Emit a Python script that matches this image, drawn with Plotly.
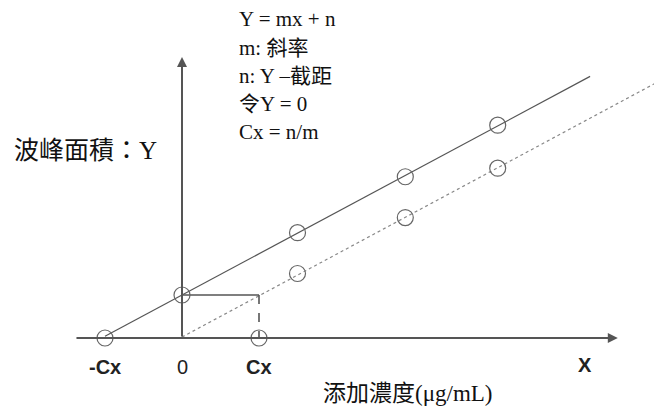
import numpy as np
import plotly.graph_objects as go

# 標準添加法示意圖
cx = 2.0
x_std = [0, 3.0, 5.8, 8.2]          # 添加濃度
y_sample = [2.0, 4.9, 7.5, 9.9]     # 樣品 + 添加 的波峰面積
y_std = [0, 3.0, 5.6, 7.9]          # 扣除樣品後
x_line_end = [10.6, 12.3]           # 迴歸線延伸到的 x
x_axis_span = [-2.78, 11.32]
y_axis_top = 13.07

formula_lines = ["Y = mx + n", "m: 斜率", "n: Y –截距", "令Y = 0", "Cx = n/m"]
tick_labels = ["<b>-Cx</b>", "0", "<b>Cx</b>"]

W, H = 654, 408
X0, PX_X = 182, 38.5
Y0, PX_Y = 338, 21.5

# 迴歸線
m1, n1 = np.polyfit(x_std, y_sample, 1)
m2, n2 = np.polyfit(x_std, y_std, 1)
xl1 = np.array([-cx, x_line_end[0]])
xl2 = np.array([0, x_line_end[1]])

fig = go.Figure()
fig.add_trace(go.Scatter(x=xl1, y=m1 * xl1 + n1, mode="lines",
                         line=dict(color="#555", width=1.2)))
fig.add_trace(go.Scatter(x=xl2, y=m2 * xl2 + n2, mode="lines",
                         line=dict(color="#888", width=1.2, dash="dot")))

# 標記 n 與 Cx
fig.add_trace(go.Scatter(x=[0, cx], y=[n1, n1], mode="lines",
                         line=dict(color="#555", width=1.6)))
fig.add_trace(go.Scatter(x=[cx, cx], y=[n1, 0], mode="lines",
                         line=dict(color="#555", width=1.6, dash="dash")))

circle = dict(symbol="circle-open", size=16, color="#666", line=dict(width=1.2))
fig.add_trace(go.Scatter(x=[-cx] + x_std, y=[0] + y_sample, mode="markers", marker=circle))
fig.add_trace(go.Scatter(x=x_std[1:] + [cx], y=y_std[1:] + [0], mode="markers", marker=circle))

# 座標軸 (箭頭)
arrow = dict(showarrow=True, arrowhead=2, arrowsize=1, arrowwidth=2, arrowcolor="#555",
             axref="x", ayref="y", xref="x", yref="y", text="")
fig.add_annotation(x=x_axis_span[1], y=0, ax=x_axis_span[0], ay=0, **arrow)
fig.add_annotation(x=0, y=y_axis_top, ax=0, ay=0, **arrow)

serif = "Liberation Serif, Times New Roman, Noto Sans CJK TC"
sans = "Liberation Sans, Arial"


def px(xp, yp):
    return xp / W, 1 - yp / H


for i, t in enumerate(formula_lines):
    xp, yp = px(237, [19, 48, 76, 104, 132][i])
    fig.add_annotation(x=xp, y=yp, xref="paper", yref="paper", text=t, showarrow=False,
                       xanchor="left", yanchor="middle",
                       font=dict(family=serif, size=21, color="#111"))

for xv, t in zip([-cx, 0, cx], tick_labels):
    fig.add_annotation(x=xv, y=px(0, 367)[1], xref="x", yref="paper", text=t, showarrow=False,
                       xanchor="center", yanchor="middle",
                       font=dict(family=sans, size=20, color="#222"))
xp, yp = px(585, 365)
fig.add_annotation(x=xp, y=yp, xref="paper", yref="paper", text="<b>X</b>", showarrow=False,
                   xanchor="center", yanchor="middle",
                   font=dict(family=sans, size=20, color="#222"))

xp, yp = px(12, 150)
fig.add_annotation(x=xp, y=yp, xref="paper", yref="paper", text="波峰面積：Y", showarrow=False,
                   xanchor="left", yanchor="middle", font=dict(family=serif, size=25, color="#111"))
xp, yp = px(321, 393)
fig.add_annotation(x=xp, y=yp, xref="paper", yref="paper", text="添加濃度(μg/mL)", showarrow=False,
                   xanchor="left", yanchor="middle", font=dict(family=serif, size=23, color="#111"))

fig.update_layout(
    width=W, height=H, margin=dict(l=0, r=0, t=0, b=0),
    paper_bgcolor="white", plot_bgcolor="white", showlegend=False,
    xaxis=dict(range=[-X0 / PX_X, (W - X0) / PX_X], visible=False, fixedrange=True),
    yaxis=dict(range=[(Y0 - H) / PX_Y, Y0 / PX_Y], visible=False, fixedrange=True),
)
fig.write_html("out.html", config={"displayModeBar": False},
               post_script="document.body.style.margin='0';")
